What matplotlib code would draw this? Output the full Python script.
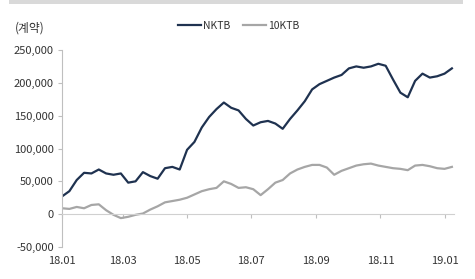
import numpy as np
import pandas as pd
import matplotlib.pyplot as plt
import matplotlib.dates as mdates
from matplotlib.patches import Rectangle

plt.rcParams['font.family'] = ['Noto Sans CJK KR', 'DejaVu Sans']

# 주간 데이터 (그림에서 읽은 값, 단위: 계약)
dates = pd.date_range('2018-01-02', periods=54, freq='7D')
nktb = [27000, 35000, 52000, 63000, 62000, 68000, 62000, 60000, 62000, 48000,
        50000, 64000, 58000, 54000, 70000, 72000, 68000, 98000, 110000, 132000,
        148000, 160000, 170000, 162000, 158000, 145000, 135000, 140000, 142000, 138000,
        130000, 145000, 158000, 172000, 190000, 198000, 203000, 208000, 212000, 222000,
        225000, 223000, 225000, 229000, 226000, 205000, 185000, 178000, 203000, 214000,
        208000, 210000, 214000, 222000]
ktb10 = [9000, 8000, 11000, 9000, 14000, 15000, 6000, -1000, -6000, -4000,
         -1000, 1000, 7000, 12000, 18000, 20000, 22000, 25000, 30000, 35000,
         38000, 40000, 50000, 46000, 40000, 41000, 38000, 29000, 38000, 48000,
         52000, 62000, 68000, 72000, 75000, 75000, 71000, 60000, 66000, 70000,
         74000, 76000, 77000, 74000, 72000, 70000, 69000, 67000, 74000, 75000,
         73000, 70000, 69000, 72000]
xticks = ['2018-01-02', '2018-03-01', '2018-05-01', '2018-07-01', '2018-09-01',
          '2018-11-01', '2019-01-01']
xlabels = ['18.01', '18.03', '18.05', '18.07', '18.09', '18.11', '19.01']
yticks = [-50000, 0, 50000, 100000, 150000, 200000, 250000]

fig = plt.figure(figsize=(4.75, 2.79), dpi=100)
fig.patches.append(Rectangle((9/475, 1-4/279), 454/475, 4/279, transform=fig.transFigure,
                             color='#d9d9d9', lw=0))
ax = fig.add_axes([62/475, 1-247/279, 392/475, 197/279])

ax.plot(dates, nktb, color='#1f3250', lw=1.6, label='NKTB')
ax.plot(dates, ktb10, color='#a6a6a6', lw=1.6, label='10KTB')

ax.set_xlim(pd.Timestamp('2018-01-02'), pd.Timestamp('2019-01-10'))
ax.set_ylim(-50000, 250000)
ax.set_yticks(yticks)
ax.set_yticklabels([f'{v:,}' for v in yticks])
ax.set_xticks(pd.to_datetime(xticks))
ax.set_xticklabels(xlabels)

for s in ['top', 'right']:
    ax.spines[s].set_visible(False)
ax.spines['left'].set_color('#bfbfbf')
ax.spines['bottom'].set_color('#d0d0d0')
ax.spines['bottom'].set_position(('data', 0))
ax.tick_params(axis='both', colors='#bfbfbf', labelcolor='#333333', labelsize=8, length=3, width=0.8)
ax.tick_params(axis='x', pad=27)
ax.tick_params(axis='y', pad=3)

fig.text(15/475, 1-28/279, '(계약)', fontsize=8.5, color='#333333', va='center')
ax.legend(loc='center', bbox_to_anchor=(239/475, 1-26/279), bbox_transform=fig.transFigure,
          ncol=2, frameon=False, fontsize=7.5, handlelength=2.2, handletextpad=0.2,
          columnspacing=1.2, labelcolor='#333333')

fig.savefig('out.png', dpi=100)
